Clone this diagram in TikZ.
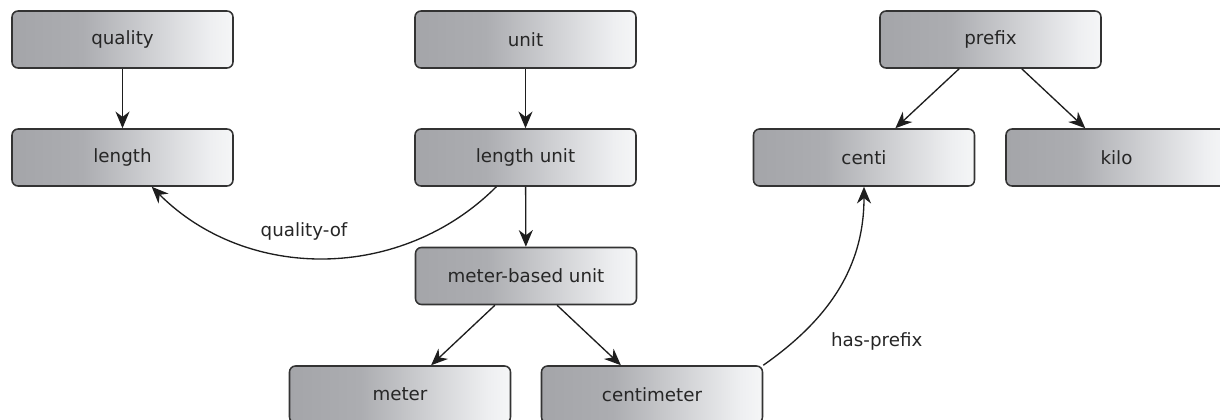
\documentclass[tikz,border=0pt]{standalone}
\usepackage{fontspec}
\setmainfont{DejaVu Sans}
\usetikzlibrary{arrows.meta}
\definecolor{gA}{RGB}{164,165,169}
\definecolor{gB}{RGB}{172,173,177}
\definecolor{gC}{RGB}{238,239,241}
\definecolor{gD}{RGB}{245,246,247}
\definecolor{edgecol}{RGB}{30,30,30}
\pgfdeclarehorizontalshading{boxgrad}{100bp}{color(0bp)=(gA); color(25bp)=(gA); color(41bp)=(gB); color(70bp)=(gC); color(75bp)=(gD); color(100bp)=(gD)}
\tikzset{
  box/.style={draw=black!80, line width=1.15pt, rounded corners=4.5pt, shading=boxgrad,
    minimum width=165.75pt, minimum height=42.75pt, inner sep=0pt,
    font=\fontsize{13.7}{16}\selectfont, text=black!85},
  arr/.style={-{Stealth[length=12.5pt, width=10.5pt, inset=4pt]}, line width=1pt, draw=edgecol},
  elabel/.style={font=\fontsize{13.7}{16}\selectfont, text=black!85, inner sep=0pt}
}
\begin{document}
\begin{tikzpicture}[x=0.75pt, y=-0.75pt]
\useasboundingbox (0,0) rectangle (1220,420);
\clip (0,0) rectangle (1220,420);
\node[box] (quality) at (122.5,39.5) {quality};
\node[box] (length) at (122.5,157.5) {length};
\node[box] (unit) at (525.5,39.5) {unit};
\node[box] (lunit) at (525.5,157.5) {length unit};
\node[box] (mbu) at (526,276) {meter-based unit};
\node[box] (meter) at (400,394.5) {meter};
\node[box] (cm) at (652,394.5) {centimeter};
\node[box] (prefix) at (990.5,39.5) {prefix};
\node[box] (centi) at (864,157.5) {centi};
\node[box] (kilo) at (1116.5,157.5) {kilo};
\draw[arr] (quality) -- (length);
\draw[arr] (unit) -- (lunit);
\draw[arr] (lunit) -- (mbu);
\draw[arr] (mbu) -- (meter);
\draw[arr] (mbu) -- (cm);
\draw[arr] (prefix) -- (centi);
\draw[arr] (prefix) -- (kilo);
\draw[arr] (lunit) to[bend left=45] node[elabel, pos=0.5, shift={(-20,-27)}] {quality-of} (length);
\draw[arr] (cm.north east) to[out=35,in=-90] node[elabel, pos=0.25, shift={(70,12)}] {has-prefix} (centi);
\end{tikzpicture}
\end{document}
